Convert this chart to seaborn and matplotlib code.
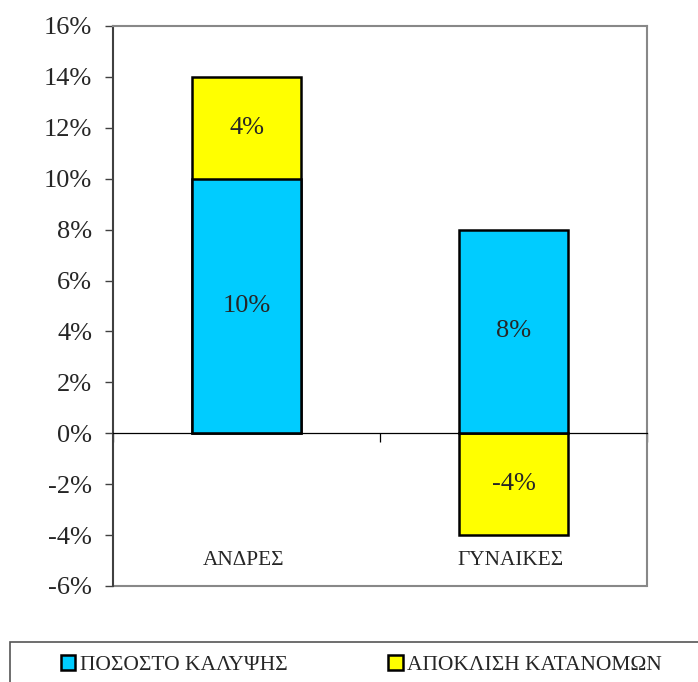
import numpy as np
import pandas as pd
import seaborn as sns
import matplotlib.pyplot as plt
from matplotlib.patches import Patch, Rectangle
from matplotlib.ticker import FuncFormatter

categories = ["ΑΝΔΡΕΣ", "ΓΥΝΑΙΚΕΣ"]
coverage = [10, 8]        # ΠΟΣΟΣΤΟ ΚΑΛΥΨΗΣ
deviation = [4, -4]       # ΑΠΟΚΛΙΣΗ ΚΑΤΑΝΟΜΩΝ
series_names = ["ΠΟΣΟΣΤΟ ΚΑΛΥΨΗΣ", "ΑΠΟΚΛΙΣΗ ΚΑΤΑΝΟΜΩΝ"]

blue = "#00CCFF"
yellow = "#FFFF00"

sns.set_style("white")
plt.rcParams["font.family"] = ["Liberation Serif", "DejaVu Serif"]

cov = np.array(coverage, dtype=float)
dev = np.array(deviation, dtype=float)
# yellow segment: stacked on top of blue if positive, hanging below zero if negative
dev_start = np.where(dev >= 0, cov, 0)
dev_end = dev_start + dev

df = pd.DataFrame({"cat": categories, "cov": cov, "dev_end": dev_end})

fig = plt.figure(figsize=(6.98, 6.82), dpi=100)
ax = fig.add_axes([113 / 698, 1 - 586 / 682, (647 - 113) / 698, (586 - 26) / 682])

sns.barplot(data=df, x="cat", y="dev_end", color=yellow, width=0.405,
            edgecolor="black", linewidth=1.8, saturation=1, ax=ax)
sns.barplot(data=df, x="cat", y="cov", color=blue, width=0.405,
            edgecolor="black", linewidth=1.8, saturation=1, ax=ax)

ax.set_ylim(-6, 16)
ax.set_xlim(-0.5, 1.5)
ax.set_yticks(range(-6, 17, 2))
ax.yaxis.set_major_formatter(FuncFormatter(lambda v, p: f"{v:.0f}%"))
ax.tick_params(axis="y", direction="out", length=6, width=1, color="#404040",
               labelsize=19, pad=9, left=True)

# category axis sits on the zero line, with ticks between categories
ax.spines["bottom"].set_position(("data", 0))
ax.spines["bottom"].set_color("black")
ax.spines["bottom"].set_linewidth(0.9)
ax.set_xticks([-0.5, 0.5, 1.5])
ax.set_xticklabels([])
ax.tick_params(axis="x", direction="out", length=6.5, width=0.9, color="black", bottom=True)
ax.set_xlabel("")
ax.set_ylabel("")

ax.spines["left"].set_color("#404040")
ax.spines["left"].set_linewidth(1.5)
for s in ["top", "right"]:
    ax.spines[s].set_color("#888888")
    ax.spines[s].set_linewidth(1.5)
ax.plot([0, 1], [0, 0], transform=ax.transAxes, color="#888888", lw=1.5, clip_on=False)

# category names near the bottom of the plot
for i, c in enumerate(categories):
    ax.text(i - 0.01, -5.0, c, ha="center", va="center", fontsize=15.3)

# value labels in the middle of each segment
for i in range(len(categories)):
    ax.text(i, cov[i] / 2, f"{coverage[i]:.0f}%", ha="center", va="center", fontsize=19)
    ax.text(i, (dev_start[i] + dev_end[i]) / 2, f"{deviation[i]:.0f}%",
            ha="center", va="center", fontsize=19)

# legend box (runs off the right and bottom edge like the original)
fig.patches.append(Rectangle((10 / 698, -0.05), 1.0, 0.05 + (682 - 642) / 682,
                             transform=fig.transFigure, fill=False,
                             edgecolor="#555555", linewidth=1.2))
handles = [Patch(facecolor=blue, edgecolor="black", linewidth=1.8),
           Patch(facecolor=yellow, edgecolor="black", linewidth=1.8)]
fig.legend(handles, series_names, loc="center left", ncol=2, frameon=False,
           bbox_to_anchor=(61 / 698, 1 - 665 / 682), fontsize=15.5,
           handlelength=0.66, handleheight=0.72, handletextpad=0.2,
           columnspacing=4.7, borderpad=0, borderaxespad=0)

fig.savefig("out.png", dpi=100)
